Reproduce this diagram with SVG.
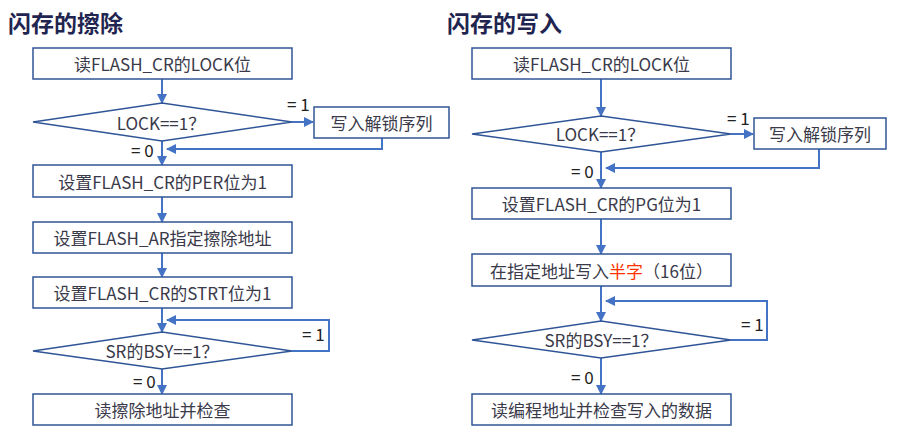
<svg xmlns="http://www.w3.org/2000/svg" width="898" height="436" viewBox="0 0 898 436">
<style>
.box{fill:#fff;stroke:#2F5597;stroke-width:1.5}
.t{font-family:"Noto Sans CJK SC","Noto Sans",sans-serif;font-size:17px;fill:#3a3a4a;text-anchor:middle;dominant-baseline:central}
.lbl{font-family:"Noto Sans CJK SC","Noto Sans",sans-serif;font-size:17px;fill:#222;}
.title{font-family:"Noto Sans CJK SC",sans-serif;font-size:23px;font-weight:bold;fill:#1f2550}
.c{fill:none;stroke:#4472C4;stroke-width:2;marker-end:url(#ah)}
.cn{fill:none;stroke:#4472C4;stroke-width:2}
</style>
<defs>
<marker id="ah" viewBox="0 0 10 10" refX="9" refY="5" markerWidth="5" markerHeight="5" orient="auto" markerUnits="strokeWidth">
<path d="M0,0 L10,5 L0,10 z" fill="#4472C4"/>
</marker>
</defs>
<rect width="898" height="436" fill="#fff"/>
<text class="title" x="8" y="32">闪存的擦除</text>
<text class="title" x="447" y="32">闪存的写入</text>

<g id="connectors">
<path class="c" d="M162,79 V103"/>
<path class="c" d="M292,122 H313"/>
<path class="c" d="M382,138 V149 H167"/>
<path class="c" d="M162,141 V165"/>
<path class="c" d="M162,197 V222"/>
<path class="c" d="M162,253 V277"/>
<path class="c" d="M162,308 V332"/>
<path class="c" d="M292,351 H329 V320 H167"/>
<path class="c" d="M162,369 V394"/>

<path class="c" d="M601,79 V116"/>
<path class="c" d="M731,134 H753"/>
<path class="c" d="M819,149 V168 H606"/>
<path class="c" d="M601,152 V188"/>
<path class="c" d="M601,219 V254"/>
<path class="c" d="M601,286 V321"/>
<path class="c" d="M731,340 H767 V301 H606"/>
<path class="c" d="M601,358 V394"/>
</g>

<g id="l-read">
<rect class="box" x="33" y="48" width="259" height="31"/>
<text class="t" x="162.5" y="63.5">读FLASH_CR的LOCK位</text>
</g>
<g id="l-lock">
<polygon class="box" points="33,122 162,103 292,122 162,141"/>
<text class="t" x="161" y="122">LOCK==1？</text>
</g>
<g id="l-unlock">
<rect class="box" x="314" y="107" width="135" height="31"/>
<text class="t" x="381.5" y="122.5">写入解锁序列</text>
</g>
<g id="l-per">
<rect class="box" x="33" y="165" width="259" height="32"/>
<text class="t" x="162.5" y="181">设置FLASH_CR的PER位为1</text>
</g>
<g id="l-ar">
<rect class="box" x="33" y="222" width="259" height="31"/>
<text class="t" x="162.5" y="237.5">设置FLASH_AR指定擦除地址</text>
</g>
<g id="l-strt">
<rect class="box" x="33" y="277" width="259" height="31"/>
<text class="t" x="162.5" y="292.5">设置FLASH_CR的STRT位为1</text>
</g>
<g id="l-bsy">
<polygon class="box" points="33,351 162,332 292,351 162,369"/>
<text class="t" x="162" y="350.5">SR的BSY==1？</text>
</g>
<g id="l-check">
<rect class="box" x="33" y="394" width="259" height="31"/>
<text class="t" x="162.5" y="409.5">读擦除地址并检查</text>
</g>
<text class="lbl" x="287" y="111">= 1</text>
<text class="lbl" x="131" y="157">= 0</text>
<text class="lbl" x="302" y="341">= 1</text>
<text class="lbl" x="133" y="388">= 0</text>

<g id="r-read">
<rect class="box" x="472" y="48" width="259" height="31"/>
<text class="t" x="601.5" y="63.5">读FLASH_CR的LOCK位</text>
</g>
<g id="r-lock">
<polygon class="box" points="472,134 601,116 731,134 601,152"/>
<text class="t" x="600" y="133.5">LOCK==1？</text>
</g>
<g id="r-unlock">
<rect class="box" x="754" y="118" width="132" height="31"/>
<text class="t" x="820" y="133.5">写入解锁序列</text>
</g>
<g id="r-pg">
<rect class="box" x="472" y="188" width="259" height="31"/>
<text class="t" x="601.5" y="203.5">设置FLASH_CR的PG位为1</text>
</g>
<g id="r-write">
<rect class="box" x="472" y="254" width="259" height="32"/>
<text class="t" x="601.5" y="270">在指定地址写入<tspan fill="#FF3300">半字</tspan>（16位）</text>
</g>
<g id="r-bsy">
<polygon class="box" points="472,340 601,321 731,340 601,358"/>
<text class="t" x="601" y="339.5">SR的BSY==1？</text>
</g>
<g id="r-check">
<rect class="box" x="472" y="394" width="259" height="31"/>
<text class="t" x="601.5" y="409.5">读编程地址并检查写入的数据</text>
</g>
<text class="lbl" x="727" y="125">= 1</text>
<text class="lbl" x="571" y="178">= 0</text>
<text class="lbl" x="741" y="331">= 1</text>
<text class="lbl" x="571" y="384">= 0</text>
</svg>
